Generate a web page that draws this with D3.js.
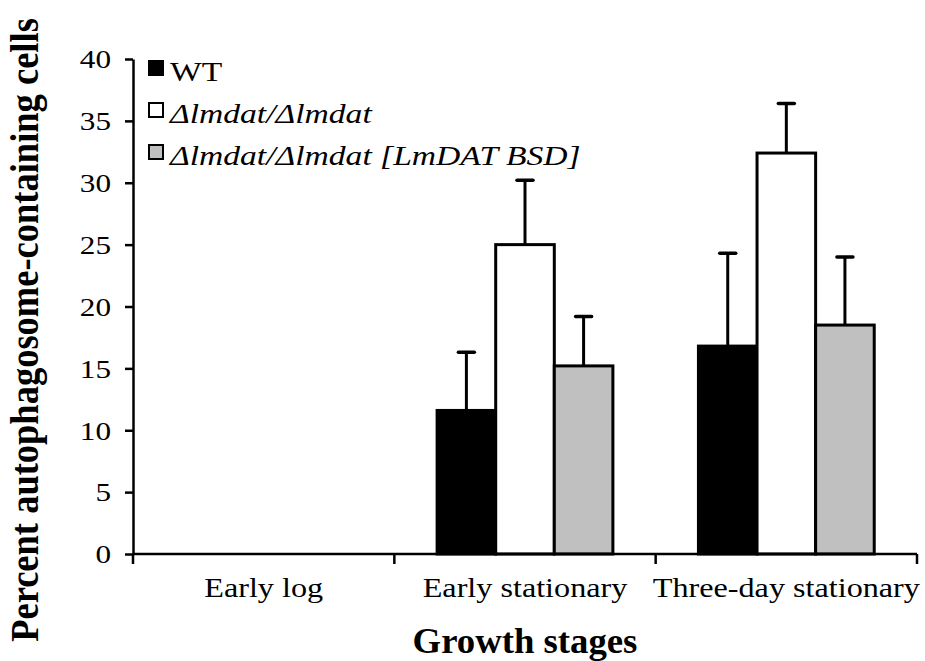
<!DOCTYPE html>
<html>
<head>
<meta charset="utf-8">
<script src="https://cdn.jsdelivr.net/npm/d3@7"></script>
<style>
  body { margin: 0; background: #fff; }
  text { font-family: "Liberation Serif", "Times New Roman", serif; fill: #000; }
</style>
</head>
<body>
<svg id="chart" width="925" height="661"></svg>
<script>
const stages = ["Early log", "Early stationary", "Three-day stationary"];
const seriesNames = ["WT", "Δlmdat/Δlmdat", "Δlmdat/Δlmdat [LmDAT BSD]"];
const seriesFills = ["#000000", "#ffffff", "#c0c0c0"];
const wtValues = [0, 11.6, 16.8];
const wtErrors = [0, 4.7, 7.5];
const koValues = [0, 25.0, 32.4];
const koErrors = [0, 5.2, 4.0];
const rescueValues = [0, 15.2, 18.5];
const rescueErrors = [0, 4.0, 5.5];
const yTicks = [0, 5, 10, 15, 20, 25, 30, 35, 40];

const allValues = [wtValues, koValues, rescueValues];
const allErrors = [wtErrors, koErrors, rescueErrors];

// text in the picture is a bit wider than it is tall
const stretch = 1.2;

const svg = d3.select("#chart");
const plotLeft = 133, plotRight = 917, plotTop = 59, plotBottom = 554;

const x = d3.scaleBand().domain(stages).range([plotLeft, plotRight]).padding(0);
const xSub = d3.scaleBand().domain(d3.range(3)).range([0, x.bandwidth()]).paddingInner(0).paddingOuter(0.73);
const y = d3.scaleLinear().domain([0, 40]).range([plotBottom, plotTop]);

// flat records for drawing
const rows = [];
stages.forEach((s, i) => {
    allValues.forEach((vals, k) => {
        rows.push({ stage: s, series: k, value: vals[i], err: allErrors[k][i] });
    });
});

// bars
svg.append("g")
    .selectAll("rect")
    .data(rows)
    .join("rect")
    .attr("x", d => x(d.stage) + xSub(d.series))
    .attr("y", d => y(d.value))
    .attr("width", xSub.bandwidth())
    .attr("height", d => y(0) - y(d.value))
    .attr("fill", d => seriesFills[d.series])
    .attr("stroke", "#000")
    .attr("stroke-width", 3);

// error bars (upper half only)
const errs = svg.append("g").selectAll("g")
    .data(rows.filter(d => d.err > 0))
    .join("g")
    .attr("transform", d => "translate(" + (x(d.stage) + xSub(d.series) + xSub.bandwidth() / 2) + ",0)");
errs.append("line")
    .attr("y1", d => y(d.value))
    .attr("y2", d => y(d.value + d.err))
    .attr("stroke", "#000").attr("stroke-width", 3);
errs.append("line")
    .attr("x1", -8).attr("x2", 8)
    .attr("y1", d => y(d.value + d.err))
    .attr("y2", d => y(d.value + d.err))
    .attr("stroke", "#000").attr("stroke-width", 3.5)
    .attr("stroke-linecap", "round");

// y axis
const yAxis = svg.append("g")
    .attr("transform", "translate(" + plotLeft + ",0)")
    .call(d3.axisLeft(y).tickValues(yTicks).tickSize(8).tickPadding(14).tickSizeOuter(0));
yAxis.select(".domain").attr("stroke", "#000").attr("stroke-width", 2.5);
yAxis.selectAll(".tick line").attr("stroke", "#000").attr("stroke-width", 2.5);
yAxis.selectAll(".tick text")
    .style("font-size", "26px")
    .attr("dy", "0.34em")
    .attr("transform", function() {
        const tx = +d3.select(this).attr("x");
        d3.select(this).attr("x", 0);
        return "translate(" + tx + ",0) scale(" + stretch + ",1)";
    });

// x axis with ticks at band edges
const xAxisG = svg.append("g").attr("transform", "translate(0," + plotBottom + ")");
xAxisG.append("line")
    .attr("x1", plotLeft).attr("x2", plotRight)
    .attr("stroke", "#000").attr("stroke-width", 2.5);
xAxisG.selectAll(".edge")
    .data(stages.map(s => x(s)).concat([plotRight]))
    .join("line")
    .attr("x1", d => d).attr("x2", d => d)
    .attr("y1", 0).attr("y2", 10)
    .attr("stroke", "#000").attr("stroke-width", 2.5);
xAxisG.selectAll(".cat")
    .data(stages)
    .join("text")
    .attr("text-anchor", "middle")
    .style("font-size", "28px")
    .attr("transform", d => "translate(" + (x(d) + x.bandwidth() / 2) + ",43) scale(1.15,1)")
    .text(d => d);

// axis titles
svg.append("text")
    .attr("text-anchor", "middle")
    .style("font-size", "35px")
    .style("font-weight", "bold")
    .attr("transform", "translate(" + ((plotLeft + plotRight) / 2) + ",653) scale(1.05,1)")
    .text("Growth stages");

svg.append("text")
    .attr("text-anchor", "middle")
    .style("font-size", "36.5px")
    .style("font-weight", "bold")
    .attr("transform", "translate(38,330) rotate(-90) scale(1,1.1)")
    .text("Percent autophagosome-containing cells");

// legend
const legend = svg.append("g").selectAll("g")
    .data(seriesNames)
    .join("g")
    .attr("transform", (d, i) => "translate(149," + (61 + i * 42) + ")");
legend.append("rect")
    .attr("width", 14).attr("height", 14)
    .attr("fill", (d, i) => seriesFills[i])
    .attr("stroke", "#000").attr("stroke-width", 2);
legend.append("text")
    .style("font-size", "28px")
    .style("font-style", (d, i) => i === 0 ? "normal" : "italic")
    .attr("transform", "translate(21,20) scale(" + stretch + ",1)")
    .text(d => d);
</script>
</body>
</html>
